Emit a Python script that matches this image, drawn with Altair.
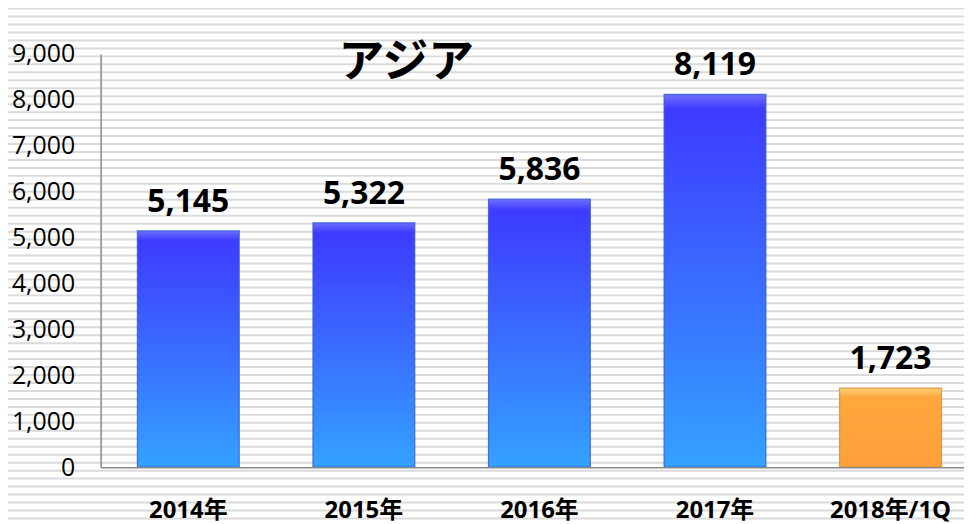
import altair as alt
import pandas as pd

# ---- data ----
categories = ["2014年", "2015年", "2016年", "2017年", "2018年/1Q"]
values = [5145, 5322, 5836, 8119, 1723]
kinds = ["year", "year", "year", "year", "quarter"]
title_text = "アジア"
y_ticks = [0, 1000, 2000, 3000, 4000, 5000, 6000, 7000, 8000, 9000]

df = pd.DataFrame({"cat": categories, "value": values, "kind": kinds})
title_df = pd.DataFrame({"t": [title_text]})

W, H = 867, 415
Y_MAX = 9000
NUM_FONT = "Open Sans, Noto Sans CJK JP, sans-serif"
JP_FONT = "Noto Sans CJK JP"

x_enc = alt.X(
    "cat:N",
    sort=categories,
    title=None,
    scale=alt.Scale(paddingInner=0.42, paddingOuter=0.169, align=0.62),
    axis=alt.Axis(
        labelAngle=0, ticks=False, domainColor="#8a8a8a", domainWidth=1.5,
        labelFont=NUM_FONT, labelFontWeight="bold", labelFontSize=24,
        labelColor="#000000", labelPadding=32, zindex=1,
    ),
)
y_enc = alt.Y(
    "value:Q",
    title=None,
    scale=alt.Scale(domain=[0, Y_MAX], nice=False, zero=True),
    axis=alt.Axis(
        values=y_ticks, format=",.0f", ticks=False, grid=False,
        domainColor="#8a8a8a", domainWidth=1.5,
        labelFont=NUM_FONT, labelFontSize=25,
        labelColor="#000000", labelPadding=26, zindex=1,
    ),
)

# background stripes (decoration): every 8 px, converted to the value scale
stripes = (
    alt.Chart(alt.sequence(-45.5, 472, 8, as_="py"))
    .transform_calculate(value=f"({H} - datum.py) * {Y_MAX} / {H}")
    .mark_rule(color="#dadada", strokeWidth=2)
    .encode(y=y_enc, x=alt.value(-93), x2=alt.value(W))
)

blue_grad = alt.Gradient(
    gradient="linear",
    x1=0, x2=0, y1=0, y2=1,
    stops=[
        alt.GradientStop(color="#6f6fff", offset=0),
        alt.GradientStop(color="#3e3bff", offset=0.04),
        alt.GradientStop(color="#3a66ff", offset=0.45),
        alt.GradientStop(color="#34a2ff", offset=1),
    ],
)
orange_grad = alt.Gradient(
    gradient="linear",
    x1=0, x2=0, y1=0, y2=1,
    stops=[
        alt.GradientStop(color="#ffd27a", offset=0),
        alt.GradientStop(color="#ffa63c", offset=0.12),
        alt.GradientStop(color="#ffa03a", offset=1),
    ],
)

base = alt.Chart(df)

blue_bars = base.transform_filter(alt.datum.kind == "year").mark_bar(
    color=blue_grad, stroke="#2d5ad6", strokeWidth=1.2, strokeOpacity=0.8
).encode(x=x_enc, y=y_enc)

orange_bars = base.transform_filter(alt.datum.kind == "quarter").mark_bar(
    color=orange_grad, stroke="#d98a2a", strokeWidth=1.2, strokeOpacity=0.8
).encode(x=x_enc, y=y_enc)

labels = base.mark_text(
    font=NUM_FONT, fontSize=32, fontWeight="bold", color="#000000",
    baseline="alphabetic", dy=-19,
).encode(x=x_enc, y=y_enc, text=alt.Text("value:Q", format=",.0f"))

title = alt.Chart(title_df).mark_text(
    font=JP_FONT, fontSize=46, fontWeight="bold", color="#000000",
    baseline="middle", align="center",
).encode(text="t:N", x=alt.value(307), y=alt.value(9))

chart = alt.layer(stripes, blue_bars, orange_bars, labels, title).properties(
    width=W,
    height=H,
    padding={"left": 93, "top": 45, "right": 0, "bottom": 56},
    autosize=alt.AutoSizeParams(type="none"),
    background="#ffffff",
).configure_view(stroke=None)

chart.save("out.html", embed_options={"renderer": "svg", "actions": False})
